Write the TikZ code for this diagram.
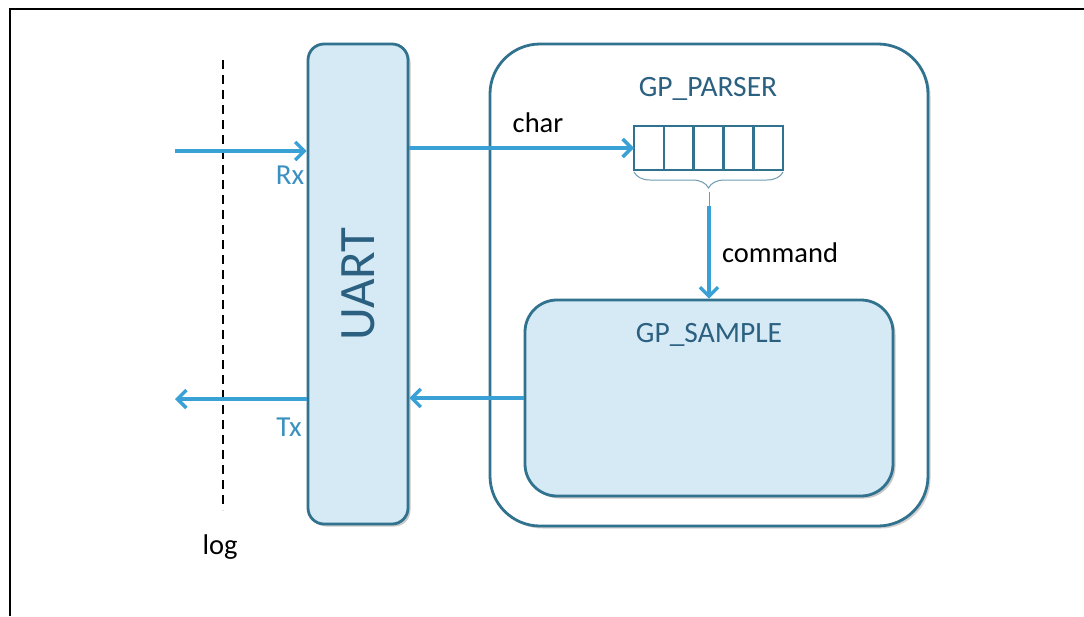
\documentclass[tikz,border=0pt]{standalone}
\usepackage{fontspec}
\setmainfont{Carlito}
\usetikzlibrary{arrows.meta,shadows,decorations.pathreplacing}
\definecolor{arrowblue}{HTML}{3AA1D6}
\definecolor{boxedge}{HTML}{31728F}
\definecolor{boxfill}{HTML}{D6EAF6}
\definecolor{boxtext}{HTML}{2B6080}
\definecolor{lbltext}{HTML}{3A90C0}
\tikzset{
  conn/.style={draw=arrowblue,line width=3.4pt,-{Straight Barb[length=9pt,width=18pt]}},
  blockbox/.style={draw=boxedge,line width=2.8pt,fill=boxfill,
     drop shadow={shadow xshift=2.5pt,shadow yshift=-2.5pt,opacity=0.35,fill=black!60}},
  cell/.style={draw=boxedge,line width=2.6pt,fill=white,minimum width=29.8pt,minimum height=44pt,inner sep=0pt,outer sep=0pt},
  lbl/.style={font=\fontsize{28.5}{30}\selectfont,text=black,inner sep=0pt},
  iolbl/.style={font=\fontsize{29}{30}\selectfont,text=lbltext,inner sep=0pt},
  titlelbl/.style={font=\fontsize{29.5}{30}\selectfont,text=boxtext,inner sep=0pt},
}
\begin{document}
\begin{tikzpicture}[x=1pt,y=-1pt]
\useasboundingbox (0,0) rectangle (1084,616);
% frame
\draw[line width=2.4pt] (10,616) -- (10,9) -- (1084,9);
% outer block
\node[draw=boxedge,line width=2.8pt,fill=white,rounded corners=50pt,minimum width=438pt,minimum height=482pt,
  drop shadow={shadow xshift=2.5pt,shadow yshift=-2.5pt,opacity=0.3,fill=black!60}] (outer) at (709,285) {};
% UART
\node[blockbox,rounded corners=16pt,minimum width=100pt,minimum height=480pt] (uart) at (358,284) {};
\node[rotate=90,font=\fontsize{51}{52}\selectfont,text=boxtext] (uartlbl) at (uart.center) {UART};
% GP_SAMPLE
\node[blockbox,rounded corners=32pt,minimum width=368pt,minimum height=196pt] (sample) at (709,398) {};
\node[titlelbl] (samplelbl) at (709,335) {GP\_SAMPLE};
% GP_PARSER
\node[titlelbl] (parserlbl) at (708,89) {GP\_PARSER};
\foreach \i in {0,...,4} {
  \node[cell] (q\i) at ({648.9+29.8*\i},148) {};
}
\draw[draw=boxedge!70,line width=1pt,decorate,decoration={brace,mirror,amplitude=16pt,raise=2pt}]
  (q0.south west) -- (q4.south east);
\coordinate (btip) at (709,192);
% dashed log line
\coordinate (dtop) at (223,60);
\coordinate (dbot) at (223,510);
\draw[line width=1.8pt,dash pattern=on 9pt off 6pt] (dtop) -- (dbot);
\node[lbl] (log) at (220,547) {log};
% Rx / Tx
\coordinate (rxin) at (175,151);
\coordinate (txout) at (175,399);
\draw[conn] (rxin) -- (rxin -| uart.west);
\draw[conn] (uart.west |- txout) -- (txout);
\node[iolbl] (rx) at (290,175) {Rx};
\node[iolbl] (tx) at (289,427) {Tx};
% char
\draw[conn] (uart.east |- q0.west) -- (q0.west);
\node[lbl] (char) at (538,123) {char};
% command
\draw[draw=boxedge!70,line width=1pt] (btip) -- ++(0,14);
\draw[conn] ([yshift=-14pt]btip) -- (sample.north);
\node[lbl] (cmd) at (780,253) {command};
% sample -> uart
\draw[conn] (sample.west) -- (sample.west -| uart.east);
\end{tikzpicture}
\end{document}
